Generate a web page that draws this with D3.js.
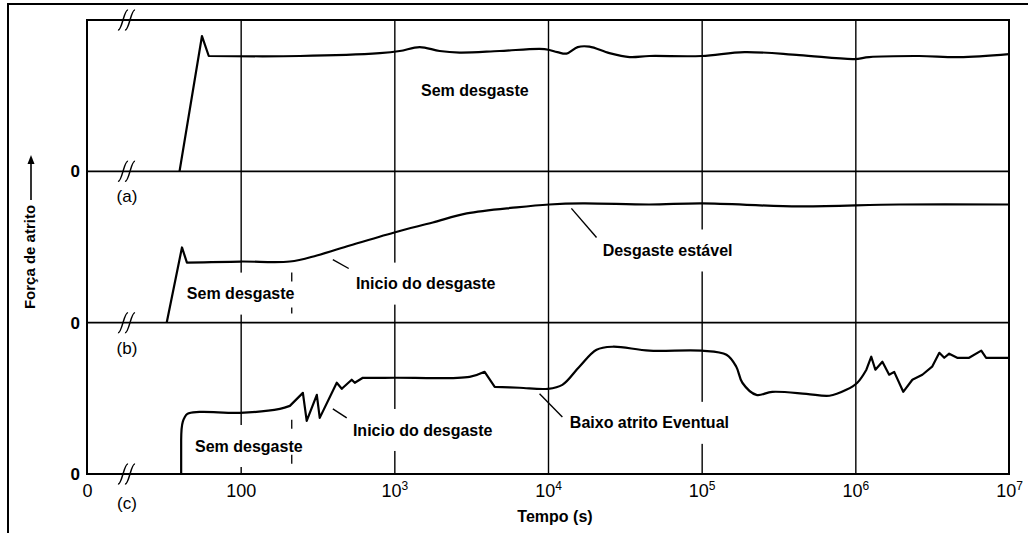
<!DOCTYPE html>
<html>
<head>
<meta charset="utf-8">
<style>
  body { margin: 0; background: #fff; }
  svg { display: block; font-family: "Liberation Sans", Arial, sans-serif; }
</style>
</head>
<body>
<svg width="1028" height="533"></svg>
<script src="https://d3js.org/d3.v7.min.js"></script>
<script>

// time axis (s), log scale; the first tick is shown as "0"
var timeTicks = [10, 100, 1e3, 1e4, 1e5, 1e6, 1e7];
var tickBase  = ["0", "100", "10", "10", "10", "10", "10"];
var tickExp   = ["", "", "3", "4", "5", "6", "7"];
var gridTimes = [100, 1e3, 1e4, 1e5, 1e6];

var panelNames = ["(a)", "(b)", "(c)"];

// friction force (fraction of panel height) against time (s)
var curveA = [[40, 0], [56, 0.894], [62, 0.762], [243, 0.762], [804, 0.781], [1085, 0.795],
  [1462, 0.821], [1972, 0.795], [2660, 0.785], [4840, 0.795], [9500, 0.808], [11500, 0.788],
  [13200, 0.778], [15600, 0.821], [18600, 0.824], [25100, 0.781], [34000, 0.755],
  [45700, 0.762], [1e5, 0.762], [190000, 0.788], [432000, 0.768], [984000, 0.742],
  [1.23e6, 0.755], [2.6e6, 0.762], [4.74e6, 0.755], [1e7, 0.775]];

var curveB = [[33, 0], [41.5, 0.497], [44.7, 0.397], [100, 0.404], [209, 0.404], [313, 0.444],
  [513, 0.51], [1000, 0.596], [1780, 0.662], [2960, 0.722], [6250, 0.762], [10200, 0.781],
  [16800, 0.788], [45700, 0.781], [1.01e5, 0.788], [4.3e5, 0.768], [1.93e6, 0.781], [1e7, 0.781]];

var curveC = [[41, 0], [41, 0.225], [42, 0.344], [45, 0.397], [54, 0.41], [99, 0.404],
  [180, 0.43], [209, 0.45], [254, 0.536], [269, 0.351], [313, 0.523], [327, 0.371],
  [422, 0.603], [455, 0.563], [528, 0.623], [553, 0.603], [624, 0.636], [1000, 0.636],
  [3090, 0.642], [3870, 0.675], [4500, 0.576], [6530, 0.57], [10000, 0.563], [12400, 0.589],
  [16000, 0.709], [20700, 0.821], [26300, 0.841], [45700, 0.815], [1e5, 0.815],
  [145000, 0.788], [168000, 0.709], [184000, 0.603], [227000, 0.523], [288000, 0.543],
  [480000, 0.53], [678000, 0.517], [873000, 0.556], [1.03e6, 0.603], [1.18e6, 0.689],
  [1.27e6, 0.775], [1.35e6, 0.689], [1.5e6, 0.742], [1.66e6, 0.656], [1.79e6, 0.675],
  [2.05e6, 0.543], [2.35e6, 0.623], [2.73e6, 0.656], [3.16e6, 0.709], [3.52e6, 0.801],
  [3.79e6, 0.768], [4.08e6, 0.795], [4.6e6, 0.768], [5.5e6, 0.768], [6.6e6, 0.815],
  [7.1e6, 0.768], [1e7, 0.768]];

var curves = [curveA, curveB, curveC];

// indices of sharp corners in each curve (smooth between them)
var cornersA = [1, 2];
var cornersB = [1, 2];
var cornersC = [1, 7, 8, 9, 10, 11, 12, 13, 14, 15, 16, 19, 20, 38, 39, 40, 41, 42, 43, 44,
  45, 46, 47, 48, 49, 50, 51, 52, 53, 54];
var corners = [cornersA, cornersB, cornersC];

// annotations: [panel, time, force, text]
var notes = [
  [0, 3340, 0.536, "Sem desgaste"],
  [1, 100, 0.192, "Sem desgaste"],
  [1, 1600, 0.258, "Inicio do desgaste"],
  [1, 60000, 0.477, "Desgaste estável"],
  [2, 113, 0.185, "Sem desgaste"],
  [2, 1530, 0.291, "Inicio do desgaste"],
  [2, 45700, 0.338, "Baixo atrito Eventual"]
];
// leader lines: [panel, t0, f0, t1, f1]
var leaders = [
  [1, 398, 0.417, 505, 0.358],
  [1, 14200, 0.755, 20700, 0.563],
  [2, 398, 0.43, 490, 0.371],
  [2, 8810, 0.53, 12400, 0.377]
];
// dashed markers: [panel, time, f0, f1]
var dashes = [[1, 215, 0.06, 0.331], [2, 215, 0.066, 0.358]];

var svg = d3.select("svg");
var pLeft = 87, pRight = 1009, pTop = 20, pBottom = 474;
var panelH = (pBottom - pTop) / 3;

var x = d3.scaleLog().domain([10, 1e7]).range([pLeft, pRight]);
var ys = panelNames.map(function(d, i) {
  var base = pTop + (i + 1) * panelH;
  return d3.scaleLinear().domain([0, 1]).range([base, base - panelH]);
});

// outer frame
svg.append("path").attr("d", "M8,533V4H1028").attr("fill", "none")
  .attr("stroke", "#000").attr("stroke-width", 2);

// vertical grid lines
svg.append("g").attr("transform", "translate(0," + pBottom + ")")
  .call(d3.axisBottom(x).tickValues(gridTimes).tickSize(-(pBottom - pTop)).tickFormat(""))
  .call(function(g) { g.select(".domain").remove(); })
  .selectAll("line").attr("stroke", "#000").attr("stroke-width", 1.4);

// white gaps behind the labels
var gapLayer = svg.append("g");

// frame and panel zero lines
svg.append("rect").attr("x", pLeft).attr("y", pTop).attr("width", pRight - pLeft).attr("height", pBottom - pTop)
  .attr("fill", "none").attr("stroke", "#000").attr("stroke-width", 2);
ys.forEach(function(y) {
  svg.append("line").attr("x1", pLeft).attr("x2", pRight).attr("y1", y(0)).attr("y2", y(0))
    .attr("stroke", "#000").attr("stroke-width", 1.6);
});

// y tick "0" per panel
ys.forEach(function(y) {
  svg.append("g").attr("transform", "translate(" + pLeft + ",0)")
    .call(d3.axisLeft(y).tickValues([0]).tickSize(0).tickPadding(7).tickFormat(function() { return "0"; }))
    .call(function(g) { g.select(".domain").remove(); })
    .selectAll("text").attr("font-size", 17).attr("font-weight", "bold")
    .attr("font-family", "Liberation Sans, Arial, sans-serif").attr("fill", "#000");
});

// x axis
var xAxis = svg.append("g").attr("transform", "translate(0," + pBottom + ")")
  .call(d3.axisBottom(x).tickValues(timeTicks).tickSize(0).tickPadding(10).tickFormat(""));
xAxis.select(".domain").remove();
xAxis.selectAll(".tick text").each(function(d, i) {
  var t = d3.select(this).attr("font-size", 18).attr("fill", "#000")
    .attr("font-family", "Liberation Sans, Arial, sans-serif");
  t.append("tspan").text(tickBase[i]);
  if (tickExp[i]) t.append("tspan").attr("font-size", 12).attr("dy", "-0.55em").text(tickExp[i]);
});

// axis break marks
function breakMark(cy) {
  [123, 130].forEach(function(cx) {
    svg.append("path")
      .attr("d", "M" + (cx - 5) + "," + (cy + 10) + "C" + (cx - 1) + "," + (cy + 11) + " " +
        (cx + 1) + "," + (cy - 11) + " " + (cx + 5) + "," + (cy - 10))
      .attr("fill", "none").attr("stroke", "#000").attr("stroke-width", 1.5);
  });
}
breakMark(pTop);
ys.forEach(function(y) { breakMark(y(0)); });

// panel names
panelNames.forEach(function(n, i) {
  svg.append("text").attr("x", 127).attr("y", ys[i](0) + (i == 2 ? 35 : 31))
    .attr("text-anchor", "middle").attr("font-size", 17).text(n);
});

// dashed markers
dashes.forEach(function(d) {
  var y = ys[d[0]];
  svg.append("line").attr("x1", x(d[1])).attr("x2", x(d[1])).attr("y1", y(d[3])).attr("y2", y(d[2]))
    .attr("stroke", "#000").attr("stroke-width", 1.3).attr("stroke-dasharray", "9,26");
});

// curves: smooth between corners, straight where the trace is jagged
curves.forEach(function(c, i) {
  var cuts = [0].concat(corners[i], [c.length - 1]);
  var line = d3.line()
    .x(function(d) { return x(d[0]); })
    .y(function(d) { return ys[i](d[1]); })
    .curve(d3.curveCatmullRom.alpha(0.5));
  var d = "";
  for (var k = 0; k < cuts.length - 1; k++) {
    var seg = line(c.slice(cuts[k], cuts[k + 1] + 1));
    d += k == 0 ? seg : "L" + seg.slice(1);
  }
  svg.append("path").attr("d", d)
    .attr("fill", "none").attr("stroke", "#000").attr("stroke-width", 2.2)
    .attr("stroke-linejoin", "round");
});

// leader lines
leaders.forEach(function(d) {
  var y = ys[d[0]];
  svg.append("line").attr("x1", x(d[1])).attr("y1", y(d[2])).attr("x2", x(d[3])).attr("y2", y(d[4]))
    .attr("stroke", "#000").attr("stroke-width", 1.4);
});

// annotation labels
notes.forEach(function(d) {
  var cx = x(d[1]), cy = ys[d[0]](d[2]);
  var t = svg.append("text").attr("x", cx).attr("y", cy).attr("dy", "0.35em")
    .attr("text-anchor", "middle").attr("font-size", 16).attr("font-weight", "bold").text(d[3]);
  var b = t.node().getBBox();
  gapLayer.append("rect").attr("x", b.x - 2).attr("y", cy - 21).attr("width", b.width + 4)
    .attr("height", 42).attr("fill", "#fff");
});

// axis titles
svg.append("text").attr("transform", "translate(35,257) rotate(-90)")
  .attr("text-anchor", "middle").attr("font-size", 15).attr("font-weight", "bold").text("Força de atrito");
svg.append("line").attr("x1", 31).attr("x2", 31).attr("y1", 200).attr("y2", 162)
  .attr("stroke", "#000").attr("stroke-width", 1.6);
svg.append("path").attr("d", "M31,155L27.5,164L34.5,164Z").attr("fill", "#000");

svg.append("text").attr("x", 555).attr("y", 522).attr("text-anchor", "middle")
  .attr("font-size", 16).attr("font-weight", "bold").text("Tempo (s)");

</script>
</body>
</html>
